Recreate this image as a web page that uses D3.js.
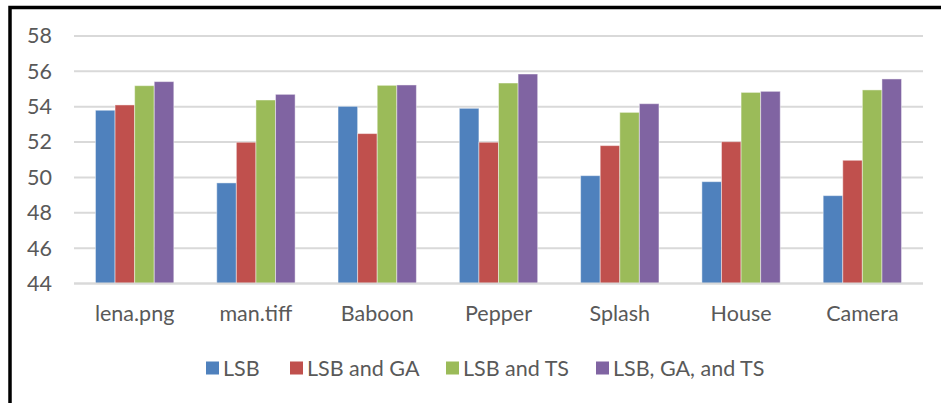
<!DOCTYPE html>
<html><head><meta charset="utf-8">
<script src="https://cdn.jsdelivr.net/npm/d3@7"></script>
<style>
html,body{margin:0;padding:0;background:#fff;}
svg{display:block;}
text{font-family:Lato,"Open Sans",sans-serif;fill:#595959;}
</style></head>
<body>
<svg id="chart" width="941" height="403"></svg>
<script>
const categories = ["lena.png","man.tiff","Baboon","Pepper","Splash","House","Camera"];
const seriesNames = ["LSB","LSB and GA","LSB and TS","LSB, GA, and TS"];
const lsb      = [53.80, 49.69, 54.02, 53.91, 50.10, 49.76, 48.97];
const lsbGA    = [54.10, 51.99, 52.48, 51.99, 51.80, 52.02, 50.97];
const lsbTS    = [55.19, 54.38, 55.21, 55.34, 53.68, 54.81, 54.95];
const lsbGATS  = [55.42, 54.70, 55.23, 55.85, 54.17, 54.87, 55.57];
const yTicks   = [44, 46, 48, 50, 52, 54, 56, 58];
const colors   = ["#4f81bd","#c0504d","#9bbb59","#8064a2"];

const seriesValues = [lsb, lsbGA, lsbTS, lsbGATS];
const svg = d3.select("#chart");
const FS = "21.5px";

const x0 = d3.scaleBand().domain(categories).range([74, 923]).paddingInner(0.354).paddingOuter(0.177);
const x1 = d3.scaleBand().domain(seriesNames).range([0, x0.bandwidth()]).padding(0);
const y = d3.scaleLinear().domain([44, 58]).range([283.5, 36]);

// gridlines
svg.append("g").selectAll("line").data(yTicks).join("line")
  .attr("x1", 74).attr("x2", 923)
  .attr("y1", d => y(d)).attr("y2", d => y(d))
  .attr("stroke", "#d9d9d9").attr("stroke-width", 2);

// y axis labels
const yAxis = d3.axisLeft(y).tickValues(yTicks).tickSize(0).tickPadding(0);
const ya = svg.append("g").attr("transform", "translate(52,0)").call(yAxis);
ya.select(".domain").remove();
ya.selectAll("text").style("font-size", FS).attr("fill", "#595959").style("font-family", "Lato");

// bars
const groups = svg.append("g").selectAll("g").data(categories).join("g")
  .attr("transform", d => `translate(${x0(d)},0)`);
groups.selectAll("rect").data((c, i) => seriesNames.map((s, j) => ({s, j, v: seriesValues[j][i]}))).join("rect")
  .attr("x", d => x1(d.s)).attr("width", x1.bandwidth())
  .attr("y", d => y(d.v)).attr("height", d => y(44) - y(d.v))
  .attr("fill", d => colors[d.j])
  .attr("stroke", "rgba(255,255,255,0.45)").attr("stroke-width", 1);

// baseline
svg.append("line").attr("x1", 74).attr("x2", 923).attr("y1", y(44)).attr("y2", y(44))
  .attr("stroke", "#d9d9d9").attr("stroke-width", 2);

// x axis labels
const xAxis = d3.axisBottom(x0).tickSize(0).tickPadding(0);
const xa = svg.append("g").attr("transform", "translate(0,321)").call(xAxis);
xa.select(".domain").remove();
xa.selectAll("text").style("font-size", FS).attr("fill", "#595959").style("font-family", "Lato").attr("dy", "0");

// legend
const legendX = [206, 290, 446, 596];
const lg = svg.append("g").selectAll("g").data(seriesNames).join("g")
  .attr("transform", (d, i) => `translate(${legendX[i]},368)`);
lg.append("rect").attr("x", 0).attr("y", -6.5).attr("width", 13).attr("height", 13).attr("fill", (d, i) => colors[i]);
lg.append("text").attr("x", 17).attr("y", 0).attr("dy", "0.35em").style("font-size", FS).text(d => d);

// frame
svg.append("path").attr("d", "M10,403 L10,7.5 L941,7.5").attr("fill", "none").attr("stroke", "#000").attr("stroke-width", 3.5);
</script>
</body></html>
